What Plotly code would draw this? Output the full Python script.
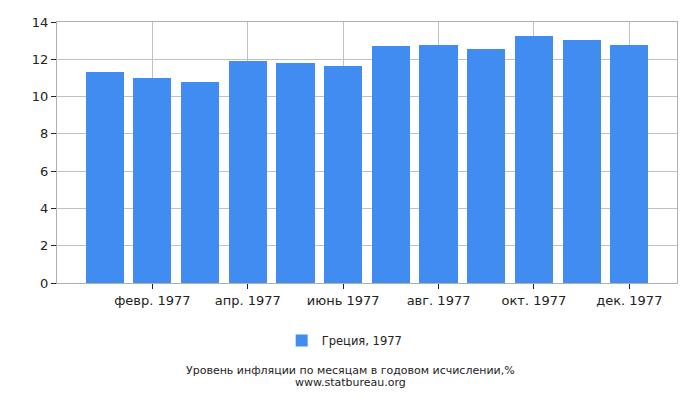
import plotly.graph_objects as go

# monthly inflation, Greece 1977 (% year over year)
months = list(range(12))
values = [11.32, 11.00, 10.78, 11.91, 11.80, 11.64, 12.71, 12.77, 12.55, 13.25, 13.04, 12.77]
tick_pos = [1, 3, 5, 7, 9, 11]
tick_text = ["февр. 1977", "апр. 1977", "июнь 1977", "авг. 1977", "окт. 1977", "дек. 1977"]
y_ticks = [0, 2, 4, 6, 8, 10, 12, 14]

font = "DejaVu Sans"
grid = "#c0c0c0"

fig = go.Figure()
fig.add_trace(go.Bar(x=months, y=values, name="Греция, 1977",
                     marker=dict(color="#418cf0", line_width=0), width=0.8))

# page body adds 8px offset, margins compensate for it
fig.update_layout(
    width=700, height=400,
    margin=dict(l=49, r=31, t=14, b=125, autoexpand=False),
    plot_bgcolor="white", paper_bgcolor="white",
    font=dict(family=font, size=13, color="#222"),
    showlegend=True,
    legend=dict(orientation="h", x=0.464, xanchor="center", y=-0.22, yanchor="middle",
                font=dict(size=11.5)),
    bargap=0,
)
fig.update_xaxes(range=[-1, 12], tickvals=tick_pos, ticktext=tick_text,
                 showgrid=True, gridcolor=grid, gridwidth=1, automargin=False,
                 showline=True, linecolor="#b0b0b0", mirror=True,
                 ticks="outside", ticklen=5, tickcolor="#222", zeroline=False)
fig.update_yaxes(range=[0, 14], tickvals=y_ticks,
                 showgrid=True, gridcolor=grid, gridwidth=1, automargin=False,
                 showline=True, linecolor="#b0b0b0", mirror=True,
                 ticks="outside", ticklen=5, tickcolor="#222", zeroline=False)

fig.add_annotation(text="Уровень инфляции по месяцам в годовом исчислении,%",
                   xref="paper", yref="paper", x=0.4726, y=-0.335, yanchor="middle",
                   showarrow=False, font=dict(size=11, color="#222"))
fig.add_annotation(text="www.statbureau.org",
                   xref="paper", yref="paper", x=0.4726, y=-0.38, yanchor="middle",
                   showarrow=False, font=dict(size=11, color="#222"))

fig.write_html("out.html")
